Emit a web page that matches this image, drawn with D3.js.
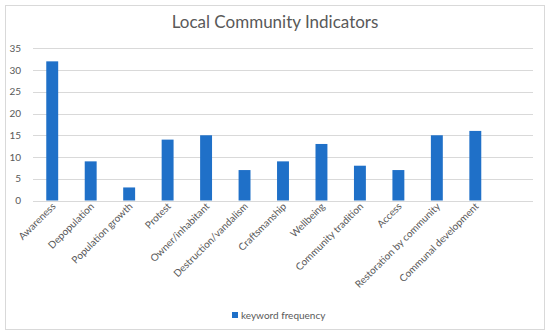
<!DOCTYPE html>
<html><head><meta charset="utf-8">
<script src="https://cdn.jsdelivr.net/npm/d3@7"></script>
<style>body{margin:0;background:#fff;font-family:Lato,"Open Sans",sans-serif;}</style>
</head><body><svg id="c" width="550" height="336"></svg>
<script>
const categories = ["Awareness","Depopulation","Population growth","Protest","Owner/inhabitant","Destruction/vandalism","Craftsmanship","Wellbeing","Community tradition","Access","Restoration by community","Communal development",""];
const values = [32,9,3,14,15,7,9,13,8,7,15,16,null];
const yTicks = [0,5,10,15,20,25,30,35];
const seriesName = "keyword frequency";
const title = "Local Community Indicators";

const svg = d3.select("#c");
const color = "#1f70c8", txt = "#595959";
svg.append("rect").attr("x",5.5).attr("y",5.5).attr("width",539).attr("height",324)
  .attr("fill","#fff").attr("stroke","#d9d9d9");
svg.append("text").attr("x",275).attr("y",28).attr("text-anchor","middle")
  .attr("font-size",17).attr("fill",txt).text(title);

const x = d3.scaleBand().domain(categories.map((d,i)=>i)).range([33,533]).paddingInner(0.69).paddingOuter(0.345);
const y = d3.scaleLinear().domain([0,35]).range([200.5,48.3]);

const g = svg.append("g");
g.selectAll("line.grid").data(yTicks).join("line").attr("class","grid")
  .attr("x1",33).attr("x2",533).attr("y1",d=>Math.round(y(d))+0.5).attr("y2",d=>Math.round(y(d))+0.5)
  .attr("stroke","#d9d9d9").attr("stroke-width",1);
g.selectAll("text.yt").data(yTicks).join("text").attr("class","yt")
  .attr("x",21).attr("y",d=>y(d)+3.5).attr("text-anchor","end")
  .attr("font-size",10).attr("fill",txt).text(d=>d);

g.selectAll("rect.bar").data(values.map((v,i)=>({v,i})).filter(d=>d.v!=null)).join("rect").attr("class","bar")
  .attr("x",d=>x(d.i)).attr("width",x.bandwidth())
  .attr("y",d=>y(d.v)).attr("height",d=>y(0)-y(d.v)).attr("fill",color);

g.selectAll("text.xl").data(categories.map((c,i)=>({c,i})).filter(d=>d.c)).join("text").attr("class","xl")
  .attr("transform",d=>`translate(${x(d.i)+x.bandwidth()/2+4},${207}) rotate(-45)`)
  .attr("text-anchor","end").attr("font-size",10).attr("fill",txt).text(d=>d.c);

const lg = svg.append("g");
lg.append("rect").attr("x",232).attr("y",312).attr("width",6).attr("height",6).attr("fill",color);
lg.append("text").attr("x",241).attr("y",318.5).attr("font-size",10).attr("fill",txt).text(seriesName);
</script></body></html>
